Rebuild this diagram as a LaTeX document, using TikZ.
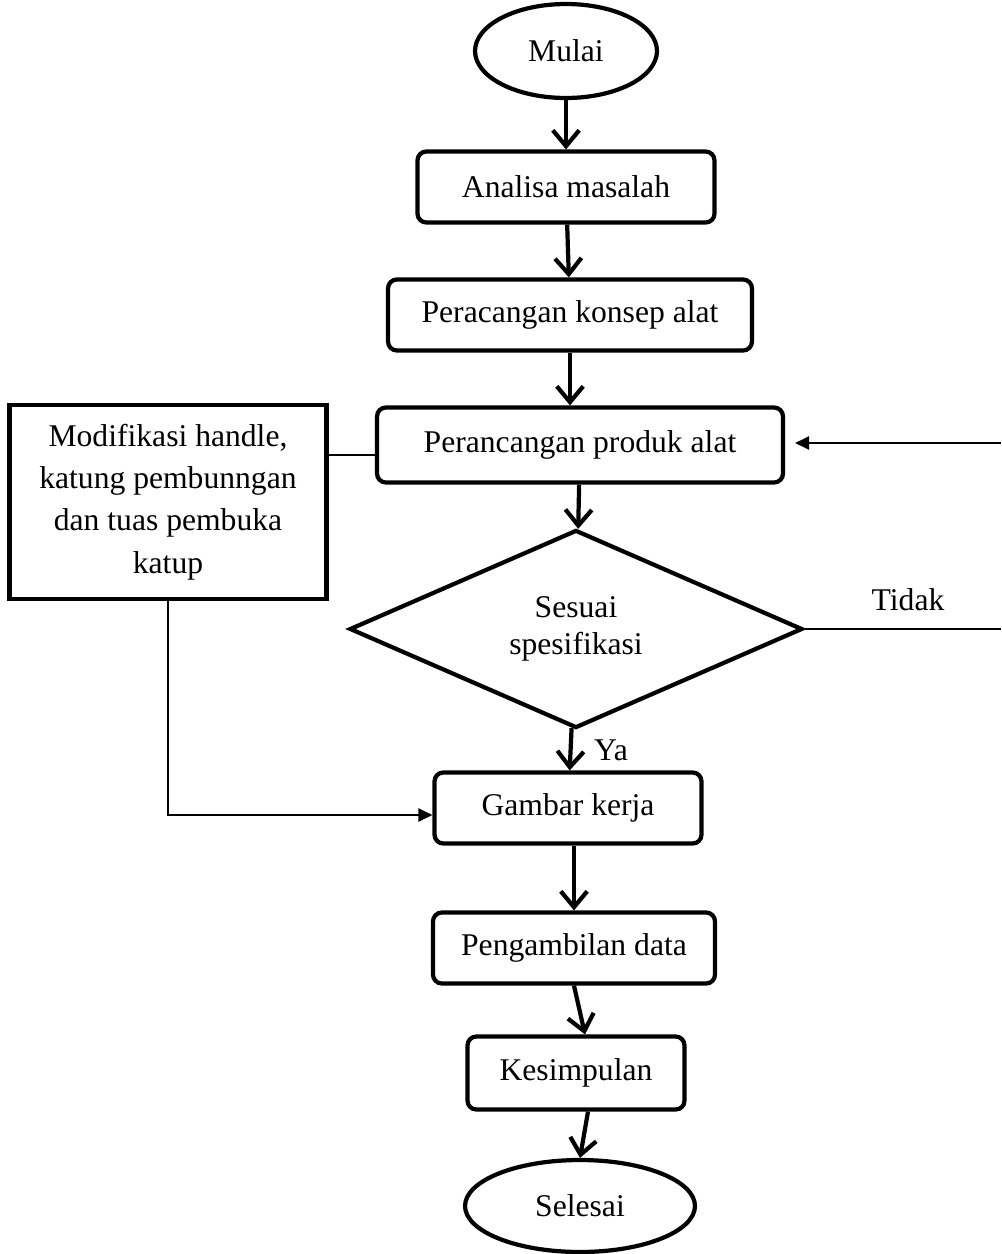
\documentclass[tikz,border=0pt]{standalone}
\usepackage{fontspec}
\setmainfont{Liberation Serif}
\usetikzlibrary{shapes.geometric,arrows.meta}

\begin{document}
\begin{tikzpicture}[x=0.02cm,y=-0.02cm,
        font=\fontsize{18}{21}\selectfont,
        proses/.style={draw,line width=2.4pt,rounded corners=5pt,inner sep=0pt,minimum height=1.42cm},
        terminal/.style={draw,ellipse,line width=2.4pt,inner sep=0pt},
        keputusan/.style={draw,diamond,line width=2.4pt,inner sep=0pt,align=center},
        panah/.style={line width=2.4pt,-{Straight Barb[length=9pt,width=15pt]}},
        garis/.style={line width=1.1pt},
        panahtipis/.style={line width=1.1pt,-{Triangle[length=8pt,width=7.5pt]}}]

        \useasboundingbox (0,0) rectangle (1001,1254);

        % alur utama
        \node[terminal,minimum width=3.64cm,minimum height=1.88cm] (mulai) at (566,51) {Mulai};
        \node[proses,minimum width=5.94cm] (analisa) at (566,187) {Analisa masalah};
        \node[proses,minimum width=7.28cm] (konsep) at (570,315) {Peracangan konsep alat};
        \node[proses,minimum width=8.12cm,minimum height=1.5cm] (produk) at (580,445) {Perancangan produk alat};
        \node[keputusan,minimum width=9.06cm,minimum height=3.82cm] (cek) at (576,629) {Sesuai\\spesifikasi};
        \node[proses,minimum width=5.34cm] (gambar) at (568,808) {Gambar kerja};
        \node[proses,minimum width=5.64cm] (data) at (574,948) {Pengambilan data};
        \node[proses,minimum width=4.34cm,minimum height=1.46cm] (simpul) at (576,1073) {Kesimpulan};
        \node[terminal,minimum width=4.6cm,minimum height=1.84cm] (selesai) at (580,1206) {Selesai};

        % kotak modifikasi
        \node[draw,line width=2.8pt,minimum width=6.34cm,minimum height=3.88cm,inner sep=0pt,align=center,
            font=\fontsize{18}{24}\selectfont] (modif) at (168,502)
            {Modifikasi handle,\\katung pembunngan\\dan tuas pembuka\\katup};

        \node (ya) at (611,750) {Ya};
        \node (tidak) at (908,600) {Tidak};

        \draw[panah] (mulai) -- (analisa);
        \draw[panah] (analisa) -- (konsep);
        \draw[panah] (konsep.south) -- (konsep.south |- produk.north);
        \draw[panah] (produk) -- (cek);
        \draw[panah] (cek) -- (gambar);
        \draw[panah] (gambar.south -| data.north) -- (data.north);
        \draw[panah] (data.south) -- ([xshift=0.18cm]simpul.north);
        \draw[panah] ([xshift=0.24cm]simpul.south) -- (selesai.north);

        % umpan balik (tidak)
        \coordinate (kananbawah) at (1001,630);
        \coordinate (kananatas) at (1001,443);
        \draw[garis] (cek.east) -- (cek.east -| kananbawah);
        \draw[panahtipis,shorten >=0.2cm] (kananatas) -- (kananatas -| produk.east);

        \coordinate (hub) at (350,455);
        \draw[garis] (modif.east |- hub) -- (produk.west |- hub);
        \draw[panahtipis] (modif.south) |- ([yshift=-0.14cm]gambar.west);
    \end{tikzpicture}
\end{document}
